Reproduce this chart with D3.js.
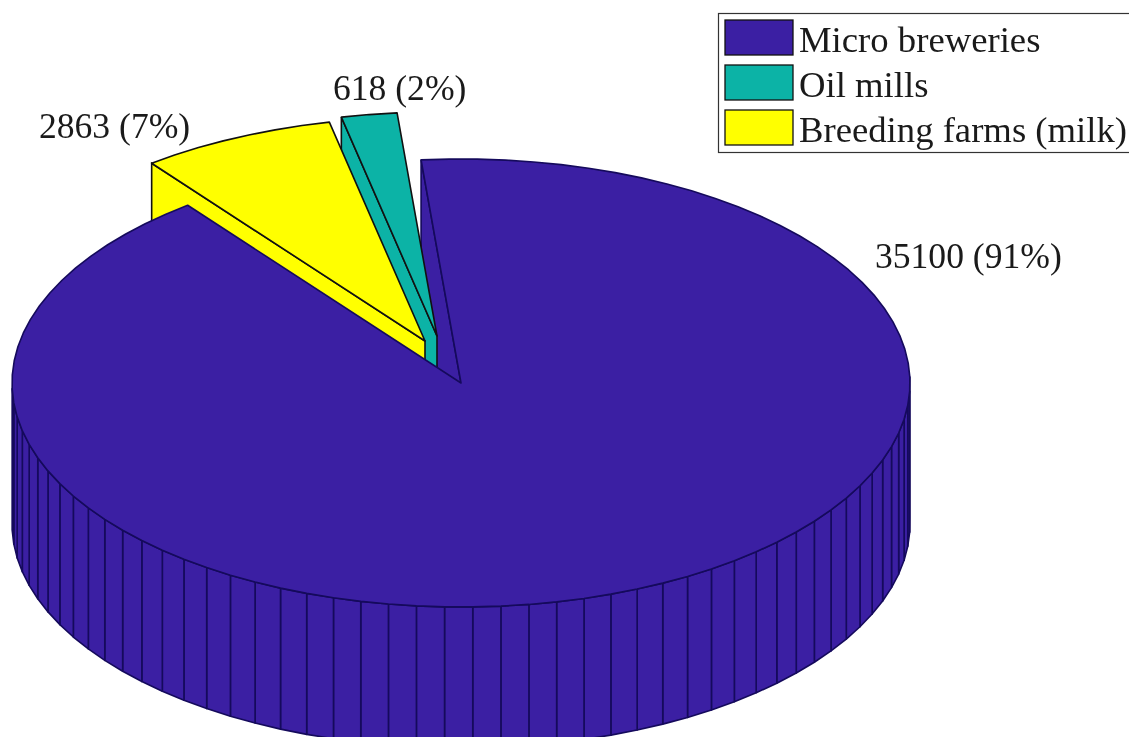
<!DOCTYPE html>
<html>
<head>
<meta charset="utf-8">
<script src="https://cdn.jsdelivr.net/npm/d3@7"></script>
<style>
  html, body { margin: 0; padding: 0; background: #fff; overflow: hidden; }
  text { font-family: "Liberation Serif", serif; fill: #1a1a1a; }
  svg { filter: blur(0.5px); }
</style>
</head>
<body>
<script>
// chart data
var categories = ["Micro breweries", "Oil mills", "Breeding farms (milk)"];
var values = [35100, 618, 2863];
// the slices are drawn from the rounded shares, they fit the picture better
var percents = [91, 2, 7];
var colors = ["#3b1fa3", "#0cb3a6", "#ffff00"];

var width = 1129, height = 737;

// the pie is a tilted disc: centre, radii and wall height in pixels
var cx = 461, cy = 383, rx = 449, ry = 224, depth = 141;
var startDeg = -5.1;
var facetDeg = 3.6;

// how far the pulled out slices moved
var exploded = [{dx: 0, dy: 0}, {dx: -24, dy: -47}, {dx: -36, dy: -42}];
var labelPos = [[875, 268], [333, 100], [39, 138]];

var color = d3.scaleOrdinal().domain(categories).range(colors);

// biggest first, going clockwise: micro, breeding farms, oil mills
var pie = d3.pie().sortValues(d3.descending)
    .startAngle(startDeg * Math.PI / 180)
    .endAngle((startDeg + 360) * Math.PI / 180);
var slices = pie(percents);

var line = d3.line();

function px(a, off) { return cx + off.dx + rx * Math.sin(a); }
function py(a, off) { return cy + off.dy - ry * Math.cos(a); }

function edgeColor(i) { return i == 0 ? "#150a5c" : "#111"; }

var svg = d3.select("body").append("svg")
    .attr("width", width)
    .attr("height", height)
    .style("display", "block");

// flat inner wall, only the one at the start of the slice can be seen
function drawInnerWall(i) {
    var off = exploded[i];
    var apex = [cx + off.dx, cy + off.dy];
    var a = slices[i].startAngle;
    var p = [px(a, off), py(a, off)];
    svg.append("path")
        .attr("d", line([apex, p, [p[0], p[1] + depth], [apex[0], apex[1] + depth]]) + "Z")
        .attr("fill", color(categories[i]))
        .attr("stroke", edgeColor(i))
        .attr("stroke-width", 1.6);
}

function drawBody(i) {
    var s = slices[i], off = exploded[i];
    var n = Math.round((s.endAngle - s.startAngle) / (facetDeg * Math.PI / 180));
    var angles = d3.range(n + 1).map(function(k) {
        return s.startAngle + (s.endAngle - s.startAngle) * k / n;
    });
    var apex = [cx + off.dx, cy + off.dy];
    var g = svg.append("g").attr("class", "slice");
    var fill = color(categories[i]);

    // outer wall facets, only the ones facing us
    d3.pairs(angles).forEach(function(pair) {
        if (Math.cos((pair[0] + pair[1]) / 2) > 0) return;
        var a = [px(pair[0], off), py(pair[0], off)];
        var b = [px(pair[1], off), py(pair[1], off)];
        g.append("path")
            .attr("d", line([a, b, [b[0], b[1] + depth], [a[0], a[1] + depth]]) + "Z")
            .attr("fill", fill)
            .attr("stroke", edgeColor(i))
            .attr("stroke-width", 1.6)
            .attr("stroke-linejoin", "round");
    });

    // top face
    var top = angles.map(function(a) { return [px(a, off), py(a, off)]; });
    g.append("path")
        .attr("d", line([apex].concat(top)) + "Z")
        .attr("fill", fill)
        .attr("stroke", edgeColor(i))
        .attr("stroke-width", 1.6)
        .attr("stroke-linejoin", "round");
}

// back to front: the wall of the big slice sits behind the two pulled out ones
drawInnerWall(0);
drawInnerWall(1);
drawBody(1);
drawInnerWall(2);
drawBody(2);
drawBody(0);

// value labels
svg.selectAll(".value-label")
    .data(values)
  .enter().append("text")
    .attr("class", "value-label")
    .attr("x", function(d, i) { return labelPos[i][0]; })
    .attr("y", function(d, i) { return labelPos[i][1]; })
    .attr("font-size", 35.6)
    .text(function(d, i) { return d + " (" + percents[i] + "%)"; });

// legend
var legend = svg.append("g").attr("class", "legend");
legend.append("rect")
    .attr("x", 718.5)
    .attr("y", 13.5)
    .attr("width", 420)
    .attr("height", 139)
    .attr("fill", "#fff")
    .attr("stroke", "#333")
    .attr("stroke-width", 1.2);

var swatchY = d3.scalePoint().domain(categories).range([20, 110]);

legend.selectAll(".swatch")
    .data(categories)
  .enter().append("rect")
    .attr("class", "swatch")
    .attr("x", 725)
    .attr("y", function(d) { return swatchY(d); })
    .attr("width", 68)
    .attr("height", 35)
    .attr("fill", function(d) { return color(d); })
    .attr("stroke", "#111")
    .attr("stroke-width", 1.3);

legend.selectAll(".legend-label")
    .data(categories)
  .enter().append("text")
    .attr("class", "legend-label")
    .attr("x", 799)
    .attr("y", function(d) { return swatchY(d) + 32; })
    .attr("font-size", 36.7)
    .text(function(d) { return d; });
</script>
</body>
</html>
